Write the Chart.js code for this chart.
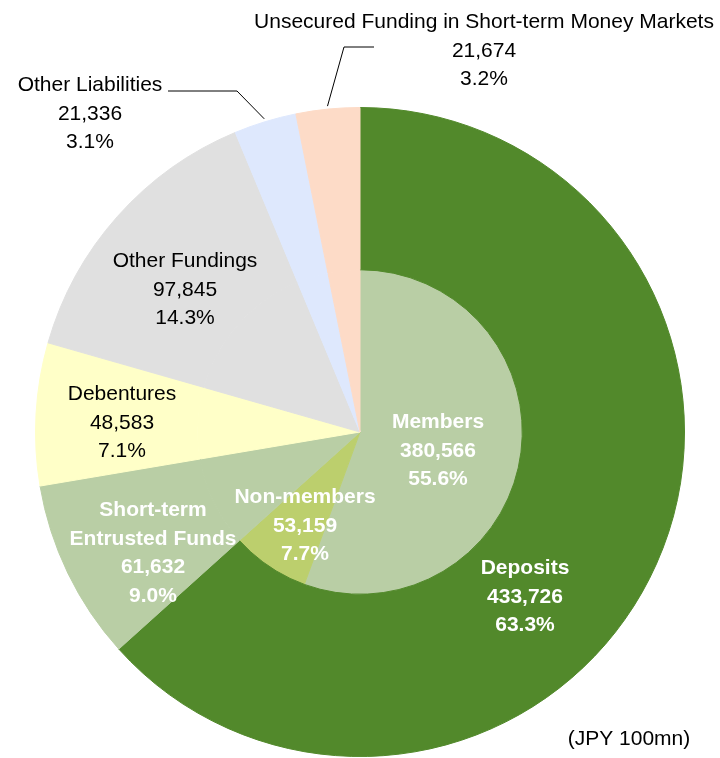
<!DOCTYPE html>
<html>
<head>
<meta charset="utf-8">
<script src="https://cdn.jsdelivr.net/npm/chart.js@4.4.1/dist/chart.umd.min.js"></script>
<style>
  html, body { margin: 0; padding: 0; background: #fff; }
  #wrap { width: 720px; height: 758px; position: relative; }
</style>
</head>
<body>
<div id="wrap"><canvas id="grafica"></canvas></div>
<script>
// Outer ring (funding breakdown), clockwise from top
const outerNames = ['Deposits', 'Short-term Entrusted Funds', 'Debentures', 'Other Fundings', 'Other Liabilities', 'Unsecured Funding in Short-term Money Markets'];
const outerValues = [433726, 61632, 48583, 97845, 21336, 21674];
const outerPct = [63.3, 9.0, 7.1, 14.3, 3.1, 3.2];

// Deposits split
const innerNames = ['Members', 'Non-members'];
const innerValues = [380566, 53159];
const innerPct = [55.6, 7.7];

const unitNote = '(JPY 100mn)';

const outerColors = ['#52892b', '#b9cea5', '#ffffc8', '#e0e0e0', '#dee8fd', '#fddbc7'];
const innerColors = ['#b9cea5', '#bccf6d'];

const FONT = "'Liberation Sans', Arial, sans-serif";
const LINE_H = 28.5;
const NUDGE = 2; // baseline 'middle' sits a bit high vs the reference

// label placement, offsets from pie centre
const labelLayout = [
    { ds: 0, i: 0, dx: 165, dy: 163, color: '#fff', bold: true },
    { ds: 0, i: 1, dx: -207, dy: 119, color: '#fff', bold: true, breakAfter: 1 },
    { ds: 0, i: 2, dx: -238, dy: -11, color: '#000' },
    { ds: 0, i: 3, dx: -175, dy: -144, color: '#000' },
    { ds: 0, i: 4, dx: -270, dy: -320, color: '#000', leader: [[-192, -341], [-123, -341]] },
    { ds: 0, i: 5, dx: 124, dy: -383, color: '#000', leader: [[14, -385], [-16, -385]] },
    { ds: 1, i: 0, dx: 78, dy: 17, color: '#fff', bold: true },
    { ds: 1, i: 1, dx: -55, dy: 92, color: '#fff', bold: true }
];

const fmt = n => n.toLocaleString('en-US');

const etiquetas = {
    id: 'etiquetas',
    afterDraw(chart) {
        const ctx = chart.ctx;
        ctx.save();
        labelLayout.forEach(l => {
            const arc = chart.getDatasetMeta(l.ds).data[l.i];
            const cx = arc.x, cy = arc.y;
            const name = l.ds === 0 ? outerNames[l.i] : innerNames[l.i];
            const val = l.ds === 0 ? outerValues[l.i] : innerValues[l.i];
            const pct = l.ds === 0 ? outerPct[l.i] : innerPct[l.i];

            let lines = [name];
            if (l.breakAfter) {
                const w = name.split(' ');
                lines = [w.slice(0, l.breakAfter).join(' '), w.slice(l.breakAfter).join(' ')];
            }
            lines.push(fmt(val), pct.toFixed(1) + '%');

            // leader line to the slice edge
            if (l.leader) {
                const mid = (arc.startAngle + arc.endAngle) / 2;
                const r = arc.outerRadius + 3;
                ctx.beginPath();
                ctx.strokeStyle = '#000';
                ctx.lineWidth = 1;
                ctx.moveTo(cx + l.leader[0][0], cy + l.leader[0][1]);
                ctx.lineTo(cx + l.leader[1][0], cy + l.leader[1][1]);
                ctx.lineTo(cx + r * Math.cos(mid), cy + r * Math.sin(mid));
                ctx.stroke();
            }

            ctx.fillStyle = l.color;
            ctx.font = (l.bold ? 'bold ' : '') + '21px ' + FONT;
            ctx.textAlign = 'center';
            ctx.textBaseline = 'middle';
            const n = lines.length;
            lines.forEach((t, k) => {
                ctx.fillText(t, cx + l.dx, cy + l.dy + NUDGE + (k - (n - 1) / 2) * LINE_H);
            });
        });

        ctx.fillStyle = '#000';
        ctx.font = '21px ' + FONT;
        ctx.textAlign = 'center';
        ctx.textBaseline = 'middle';
        ctx.fillText(unitNote, chart.width - 91, 738 + 1);
        ctx.restore();
    }
};

// inner ring: deposits split, rest of the circle repeats the outer slices
const innerData = innerValues.concat(outerValues.slice(1));
const innerBg = innerColors.concat(outerColors.slice(1));

new Chart(document.getElementById('grafica'), {
    type: 'pie',
    data: {
        labels: innerNames.concat(outerNames.slice(1)),
        datasets: [
            {
                data: outerValues,
                backgroundColor: outerColors,
                borderColor: outerColors,
                borderWidth: 1
            },
            {
                data: innerData,
                backgroundColor: innerBg,
                borderColor: innerBg,
                borderWidth: 1
            }
        ]
    },
    options: {
        responsive: true,
        maintainAspectRatio: false,
        animation: false,
        events: [],
        layout: { padding: { left: 35, right: 35, top: 107, bottom: 1 } },
        plugins: {
            legend: { display: false },
            tooltip: { enabled: false }
        }
    },
    plugins: [etiquetas]
});
</script>
</body>
</html>
